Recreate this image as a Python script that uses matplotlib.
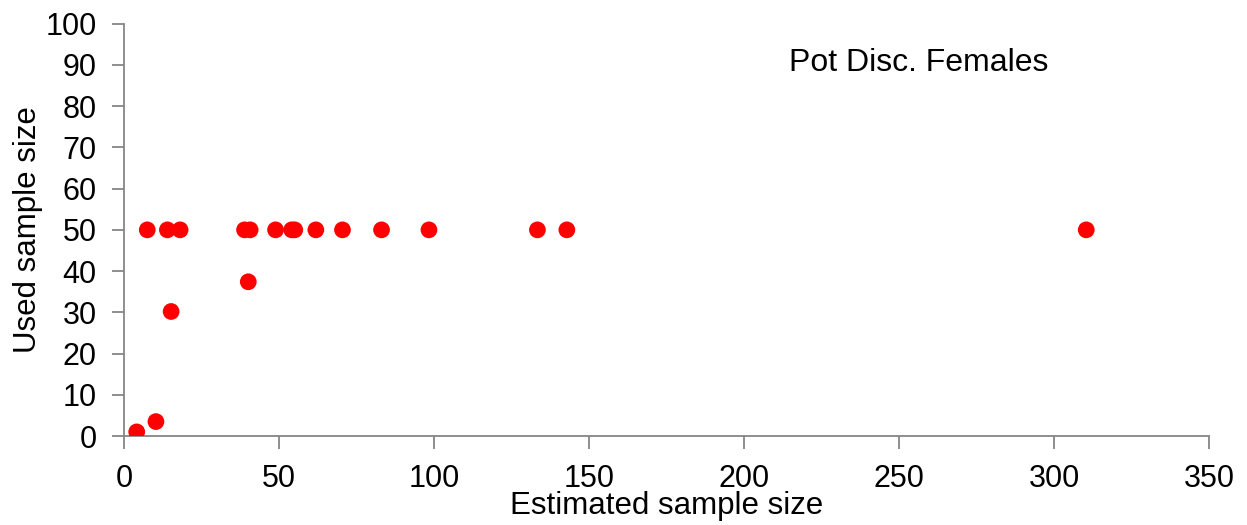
import matplotlib
matplotlib.use("Agg")
import matplotlib.pyplot as plt

estimated = [4.0, 10.2, 15.1, 40.0, 7.4, 13.9, 18.0, 38.8, 40.6, 48.8, 54.0, 55.0,
             61.8, 70.4, 83.0, 98.3, 133.3, 142.8, 310.4]
used = [1.0, 3.5, 30.2, 37.4, 50, 50, 50, 50, 50, 50, 50, 50,
        50, 50, 50, 50, 50, 50, 50]
x_ticks = [0, 50, 100, 150, 200, 250, 300, 350]
y_ticks = [0, 10, 20, 30, 40, 50, 60, 70, 80, 90, 100]
label_text = "Pot Disc. Females"

plt.rcParams['font.family'] = ['Liberation Sans', 'DejaVu Sans']

fig = plt.figure(figsize=(12.47, 5.25), dpi=100)
ax = fig.add_axes([0.0997, 0.1695, 0.8698, 0.7854])

ax.scatter(estimated, used, s=145, color='#FF0000', edgecolors='none', zorder=3)

ax.set_xlim(0, 350)
ax.set_ylim(0, 100)
ax.set_xticks(x_ticks)
ax.set_yticks(y_ticks)

axis_color = '#868686'
for side in ['top', 'right']:
    ax.spines[side].set_visible(False)
for side in ['left', 'bottom']:
    ax.spines[side].set_color(axis_color)
    ax.spines[side].set_linewidth(1.3)

ax.tick_params(axis='both', direction='out', length=9, width=1.3, color=axis_color,
               labelsize=22, labelcolor='black', pad=11)

ax.set_xlabel("Estimated sample size", fontsize=22.5, labelpad=-2)
ax.set_ylabel("Used sample size", fontsize=22.5, labelpad=2)

ax.text(214.4, 90.5, label_text, fontsize=23, ha='left', va='center')

fig.savefig("out.png", dpi=100)
